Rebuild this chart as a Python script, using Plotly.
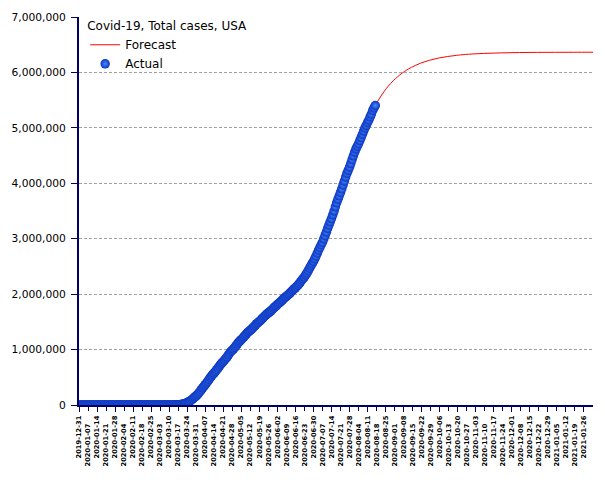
import pandas as pd
import plotly.graph_objects as go

# ---------------- data ----------------
dec_2019 = [0]
jan_2020 = [0] * 20 + [1, 1, 1, 2, 2, 5, 5, 5, 5, 6, 7]
feb_2020 = [8, 8, 11, 11, 11, 12, 12, 12, 12, 12,
            13, 13, 14, 15, 15, 15, 15, 15, 15, 15,
            35, 35, 35, 53, 53, 59, 60, 62, 62]
mar_2020 = [68, 75, 100, 124, 158, 221, 319, 435, 541, 704,
            994, 1301, 1630, 2183, 2770, 3613, 4596, 6344, 9197, 13779,
            19367, 24192, 33592, 43781, 54856, 68211, 85570, 103747, 125313, 145184,
            163199]
apr_2020 = [187834, 214461, 244230, 276965, 309718, 336802, 366317, 397121, 428654, 462780,
            496535, 526396, 555313, 580619, 607670, 636350, 667801, 699706, 732197, 759086,
            784326, 811865, 840351, 869170, 905358, 938154, 965785, 988197, 1012582, 1039909]
may_2020 = [1069424, 1103461, 1132539, 1158040, 1180375, 1204351, 1229331, 1257023, 1283929, 1309550,
            1329260, 1347881, 1369376, 1390406, 1417774, 1442824, 1467820, 1486757, 1508308, 1528568,
            1551853, 1577147, 1600937, 1622612, 1643246, 1662302, 1680913, 1699933, 1721750, 1746019,
            1770165]
jun_2020 = [1790191, 1811360, 1831821, 1851520, 1872660, 1897838, 1920061, 1942363, 1961185, 1979850,
            2000702, 2023347, 2048986, 2074526, 2094069, 2114026, 2137731, 2163290, 2191052, 2222579,
            2255119, 2280969, 2312303, 2347491, 2382426, 2422310, 2467837, 2510259, 2549294, 2590668]
jul_2020 = [2636414, 2687588, 2742049, 2795361, 2841241, 2891124, 2936077, 2996098, 3054699, 3117946,
            3185737, 3245925, 3304942, 3364157, 3431574, 3499398, 3576157, 3647715, 3711413, 3773260,
            3834677, 3899211, 3970121, 4038816, 4112531, 4178970, 4233923, 4290337, 4356369, 4426982,
            4495015]
aug_2020 = [4562038, 4620444, 4668143, 4713540, 4771087, 4823890, 4883582, 4941755, 4998017, 5044864,
            5094565, 5141208, 5197411, 5248958, 5313055, 5361165, 5403213]

actual_start = "2019-12-31"
actual_values = (dec_2019 + jan_2020 + feb_2020 + mar_2020 + apr_2020 +
                 may_2020 + jun_2020 + jul_2020 + aug_2020)
actual_dates = pd.date_range(actual_start, periods=len(actual_values), freq="D")

forecast_dates = ["2020-08-17", "2020-08-20", "2020-08-24", "2020-08-27", "2020-08-31",
                  "2020-09-03", "2020-09-07", "2020-09-10", "2020-09-14", "2020-09-21",
                  "2020-09-28", "2020-10-05", "2020-10-12", "2020-10-19", "2020-10-26",
                  "2020-11-09", "2020-11-23", "2020-12-07", "2020-12-21", "2021-01-04",
                  "2021-01-18", "2021-02-02"]
forecast_values = [5403213, 5522000, 5661000, 5750000, 5851000,
                   5916000, 5990000, 6037000, 6091000, 6165000,
                   6219000, 6259000, 6287000, 6308000, 6324000,
                   6343000, 6353000, 6359000, 6362000, 6363000,
                   6364000, 6364500]

tick_labels = ["2019-12-31", "2020-01-07", "2020-01-14", "2020-01-21", "2020-01-28",
               "2020-02-04", "2020-02-11", "2020-02-18", "2020-02-25", "2020-03-03",
               "2020-03-10", "2020-03-17", "2020-03-24", "2020-03-31", "2020-04-07",
               "2020-04-14", "2020-04-21", "2020-04-28", "2020-05-05", "2020-05-12",
               "2020-05-19", "2020-05-26", "2020-06-02", "2020-06-09", "2020-06-16",
               "2020-06-23", "2020-06-30", "2020-07-07", "2020-07-14", "2020-07-21",
               "2020-07-28", "2020-08-04", "2020-08-11", "2020-08-18", "2020-08-25",
               "2020-09-01", "2020-09-08", "2020-09-15", "2020-09-22", "2020-09-29",
               "2020-10-06", "2020-10-13", "2020-10-20", "2020-10-27", "2020-11-03",
               "2020-11-10", "2020-11-17", "2020-11-24", "2020-12-01", "2020-12-08",
               "2020-12-15", "2020-12-22", "2020-12-29", "2021-01-05", "2021-01-12",
               "2021-01-19", "2021-01-26"]
x_range = ["2019-12-31", "2021-02-02"]

title_text = "Covid-19, Total cases, USA"

# ---------------- figure ----------------
NAVY = "#000066"
FONT = "DejaVu Sans"

fig = go.Figure()
fig.add_trace(go.Scatter(
    x=forecast_dates, y=forecast_values, name="Forecast", mode="lines",
    line=dict(color="#ff0000", width=1, shape="spline"),
    xaxis="x", yaxis="y",
))
fig.add_trace(go.Scatter(
    x=actual_dates, y=actual_values, name="Actual", mode="markers",
    marker=dict(size=9.5, color="#0a34c0", line=dict(width=0),
                gradient=dict(type="radial", color="#4a8cff")),
    xaxis="x2", yaxis="y",
))

odd_vals = tick_labels[0::2]
even_vals = tick_labels[1::2]

common_x = dict(
    type="date", range=x_range, showgrid=False, zeroline=False,
    ticks="outside", ticklen=5, tickwidth=1, tickcolor=NAVY,
    tickangle=-90, tickfont=dict(family=FONT, size=6.7, color="#000000", weight="bold"),
)

fig.update_layout(
    width=597, height=472,
    margin=dict(l=71, r=12, t=9, b=75, autoexpand=False),
    paper_bgcolor="white", plot_bgcolor="white",
    font=dict(family=FONT, size=12, color="#000000"),
    xaxis=dict(**common_x, showline=True, linecolor=NAVY, linewidth=2,
               tickmode="array", tickvals=odd_vals, ticktext=odd_vals,
               ticklabelstandoff=1),
    xaxis2=dict(**common_x, overlaying="x", side="bottom", anchor="y", showline=False,
                tickmode="array", tickvals=even_vals, ticktext=even_vals,
                ticklabelstandoff=10),
    yaxis=dict(range=[0, 7000000], dtick=1000000, tickformat=",d",
               showline=True, linecolor=NAVY, linewidth=2,
               ticks="outside", ticklen=6, tickcolor=NAVY, ticklabelstandoff=3,
               tickfont=dict(family=FONT, size=10.7, color="#000000"),
               showgrid=True, gridcolor="#a0a0a0", griddash="3px,2px", gridwidth=1,
               zeroline=False),
    legend=dict(x=0.012, y=1.006, xanchor="left", yanchor="top",
                bgcolor="rgba(0,0,0,0)", itemwidth=30, tracegroupgap=0,
                title=dict(text=title_text, font=dict(family=FONT, size=12)),
                font=dict(family=FONT, size=12)),
    showlegend=True,
)

fig.write_html("out.html")
